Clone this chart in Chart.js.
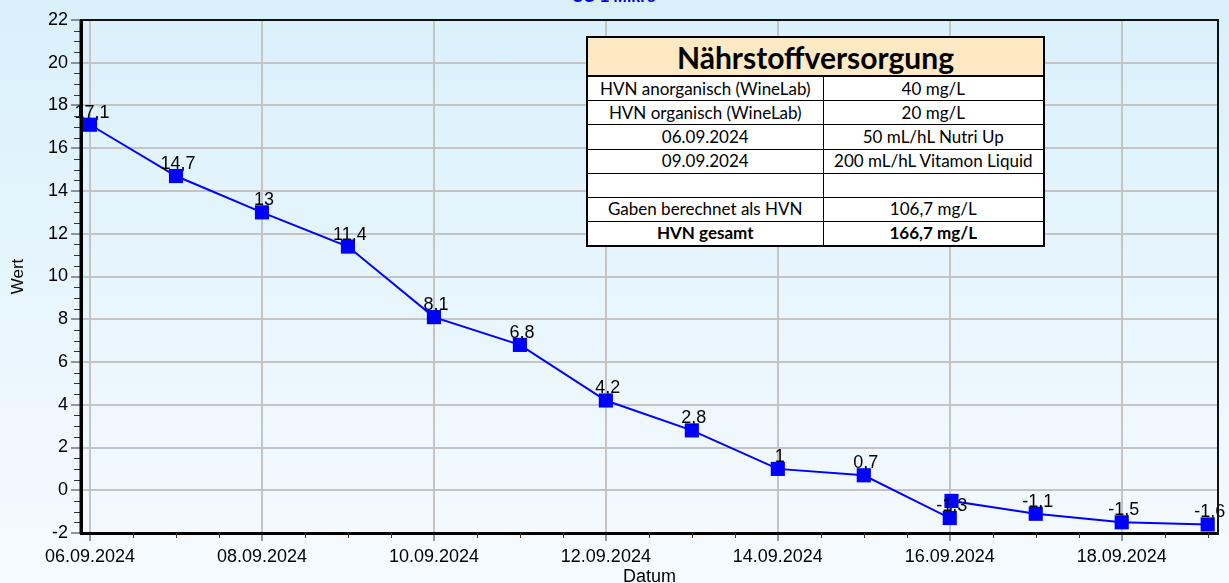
<!DOCTYPE html>
<html>
<head>
<meta charset="utf-8">
<script src="https://cdn.jsdelivr.net/npm/chart.js@4.4.1/dist/chart.umd.min.js"></script>
<style>
  html, body { margin: 0; padding: 0; }
  body {
    width: 1229px; height: 583px; overflow: hidden; position: relative;
    background: linear-gradient(180deg, #d9f0fb 0%, #e9f6fd 55%, #f6fbff 100%);
  }
  #wertChart { position: absolute; left: 0; top: 0; }
  #naehrstoff {
    position: absolute; left: 586px; top: 36px; width: 457px; height: 211px;
    border-collapse: collapse; border: 2px solid #000; background: #fff;
    font-family: Lato, "Open Sans", sans-serif; font-size: 17px; color: #000;
    table-layout: fixed;
  }
  #naehrstoff td { border: 1px solid #000; text-align: center; padding: 0; height: 23px; line-height: 20px; white-space: nowrap; }
  #naehrstoff th {
    background: #fde9c4; border: 2px solid #000; height: 37px; padding: 0;
    font-size: 30px; line-height: 34px; font-weight: bold; text-align: center;
  }
  #naehrstoff .gesamt td { font-weight: bold; }
</style>
</head>
<body>
<canvas id="wertChart" width="1229" height="583"></canvas>
<table id="naehrstoff">
  <colgroup><col style="width:236px"><col style="width:221px"></colgroup>
  <tr><th colspan="2">Nährstoffversorgung</th></tr>
  <tr><td>HVN anorganisch (WineLab)</td><td>40 mg/L</td></tr>
  <tr><td>HVN organisch (WineLab)</td><td>20 mg/L</td></tr>
  <tr><td>06.09.2024</td><td>50 mL/hL Nutri Up</td></tr>
  <tr><td>09.09.2024</td><td>200 mL/hL Vitamon Liquid</td></tr>
  <tr><td></td><td></td></tr>
  <tr><td>Gaben berechnet als HVN</td><td>106,7 mg/L</td></tr>
  <tr class="gesamt"><td>HVN gesamt</td><td>166,7 mg/L</td></tr>
</table>
<script>
'use strict';
//** Daten */

let charttitle = 'CO 1 Mikro';
// Tag im September 2024 (16.09. zweimal gemessen)
let messtage = [6, 7, 8, 9, 10, 11, 12, 13, 14, 15, 16, 16.02, 17, 18, 19];
let messwerte = [17.1, 14.7, 13, 11.4, 8.1, 6.8, 4.2, 2.8, 1, 0.7, -1.3, -0.5, -1.1, -1.5, -1.6];
let wertlabels = ['17,1', '14,7', '13', '11,4', '8,1', '6,8', '4,2', '2,8', '1', '0,7', '-1,3', '', '-1,1', '-1,5', '-1,6'];
let xticktage = [6, 8, 10, 12, 14, 16, 18];
let xticklabels = ['06.09.2024', '08.09.2024', '10.09.2024', '12.09.2024', '14.09.2024', '16.09.2024', '18.09.2024'];

let axisfont = '"Liberation Sans", Arial, sans-serif';

//** Plugin: Rahmen, kleine Ticks, Werte, Titel */

let extrasplugin = {
  id: 'extras',
  afterDatasetsDraw(chart) {
    let c = chart.ctx;
    let meta = chart.getDatasetMeta(0);
    c.save();
    c.font = '18px ' + axisfont;
    c.fillStyle = '#000';
    c.textAlign = 'center';
    c.textBaseline = 'alphabetic';
    for (let i = 0; i < meta.data.length; i++) {
      if (!wertlabels[i]) continue;
      let pt = meta.data[i];
      c.fillText(wertlabels[i], pt.x + 2, pt.y - 7);
    }
    c.restore();
  },
  afterDraw(chart) {
    let c = chart.ctx;
    let area = chart.chartArea;
    let xs = chart.scales.x;
    let ys = chart.scales.y;
    c.save();
    // kleine Ticks
    c.strokeStyle = '#333';
    c.lineWidth = 1;
    c.beginPath();
    for (let v = -2; v <= 22; v += 0.5) {
      if (v % 2 === 0) continue;
      let py = Math.round(ys.getPixelForValue(v)) + 0.5;
      c.moveTo(area.left - 7, py);
      c.lineTo(area.left, py);
    }
    for (let d = 6; d <= 19; d += 0.5) {
      if (d % 2 === 0) continue;
      let px = Math.round(xs.getPixelForValue(d)) + 0.5;
      c.moveTo(px, area.bottom);
      c.lineTo(px, area.bottom + 5);
    }
    c.stroke();
    // Rahmen oben / rechts
    c.strokeStyle = '#111';
    c.lineWidth = 2;
    c.beginPath();
    c.moveTo(area.left, area.top);
    c.lineTo(area.right, area.top);
    c.lineTo(area.right, area.bottom);
    c.stroke();
    // linke Achse wieder drüber
    c.strokeStyle = '#000';
    c.lineWidth = 3;
    c.beginPath();
    c.moveTo(area.left, area.top);
    c.lineTo(area.left, area.bottom + 1);
    c.stroke();
    // Titel (oben abgeschnitten)
    c.font = 'bold 16px ' + axisfont;
    c.fillStyle = '#0000ee';
    c.textAlign = 'center';
    c.textBaseline = 'alphabetic';
    c.fillText(charttitle, 614, 2);
    c.restore();
  }
};

//** Chart */

let ctx = document.getElementById('wertChart');

let chartObj = {
  type: 'line',
  data: {
    datasets: [{
      data: messtage.map((t, i) => ({ x: t, y: messwerte[i] })),
      borderColor: '#0000ff',
      borderWidth: 2,
      tension: 0,
      pointStyle: 'rect',
      pointRadius: 10,
      pointBackgroundColor: '#0000ff',
      pointBorderColor: '#0000ff',
      pointBorderWidth: 0
    }]
  },
  options: {
    responsive: false,
    animation: false,
    layout: { padding: { top: 20, right: 11, left: 0, bottom: 0 } },
    plugins: {
      legend: { display: false },
      tooltip: { enabled: false }
    },
    scales: {
      x: {
        type: 'linear',
        min: 5.895,
        max: 19.12,
        afterBuildTicks: (s) => { s.ticks = xticktage.map(v => ({ value: v })); },
        afterFit: (s) => { s.height = 50; },
        ticks: {
          autoSkip: false,
          maxRotation: 0,
          padding: 5,
          color: '#000',
          font: { family: axisfont, size: 18 },
          callback: (v) => xticklabels[xticktage.indexOf(v)]
        },
        grid: { color: '#c4c4c4', lineWidth: 2, tickLength: 8, tickColor: '#333', tickWidth: 1 },
        border: { color: '#000', width: 3 },
        title: {
          display: true, text: 'Datum', color: '#000',
          font: { family: axisfont, size: 18, lineHeight: 1 }, padding: { top: 0, bottom: -3 }
        }
      },
      y: {
        min: -2,
        max: 22,
        afterFit: (s) => { s.width = 81; },
        ticks: {
          stepSize: 2,
          padding: 3,
          color: '#000',
          font: { family: axisfont, size: 18 }
        },
        grid: { color: '#c4c4c4', lineWidth: 2, tickLength: 10, tickColor: '#333', tickWidth: 1 },
        border: { color: '#000', width: 3 },
        title: {
          display: true, text: 'Wert', color: '#000',
          font: { family: axisfont, size: 17, lineHeight: 1 }, padding: { top: 10, bottom: 0 }
        }
      }
    }
  },
  plugins: [extrasplugin]
};

let wertchart = new Chart(ctx, chartObj);
</script>
</body>
</html>
